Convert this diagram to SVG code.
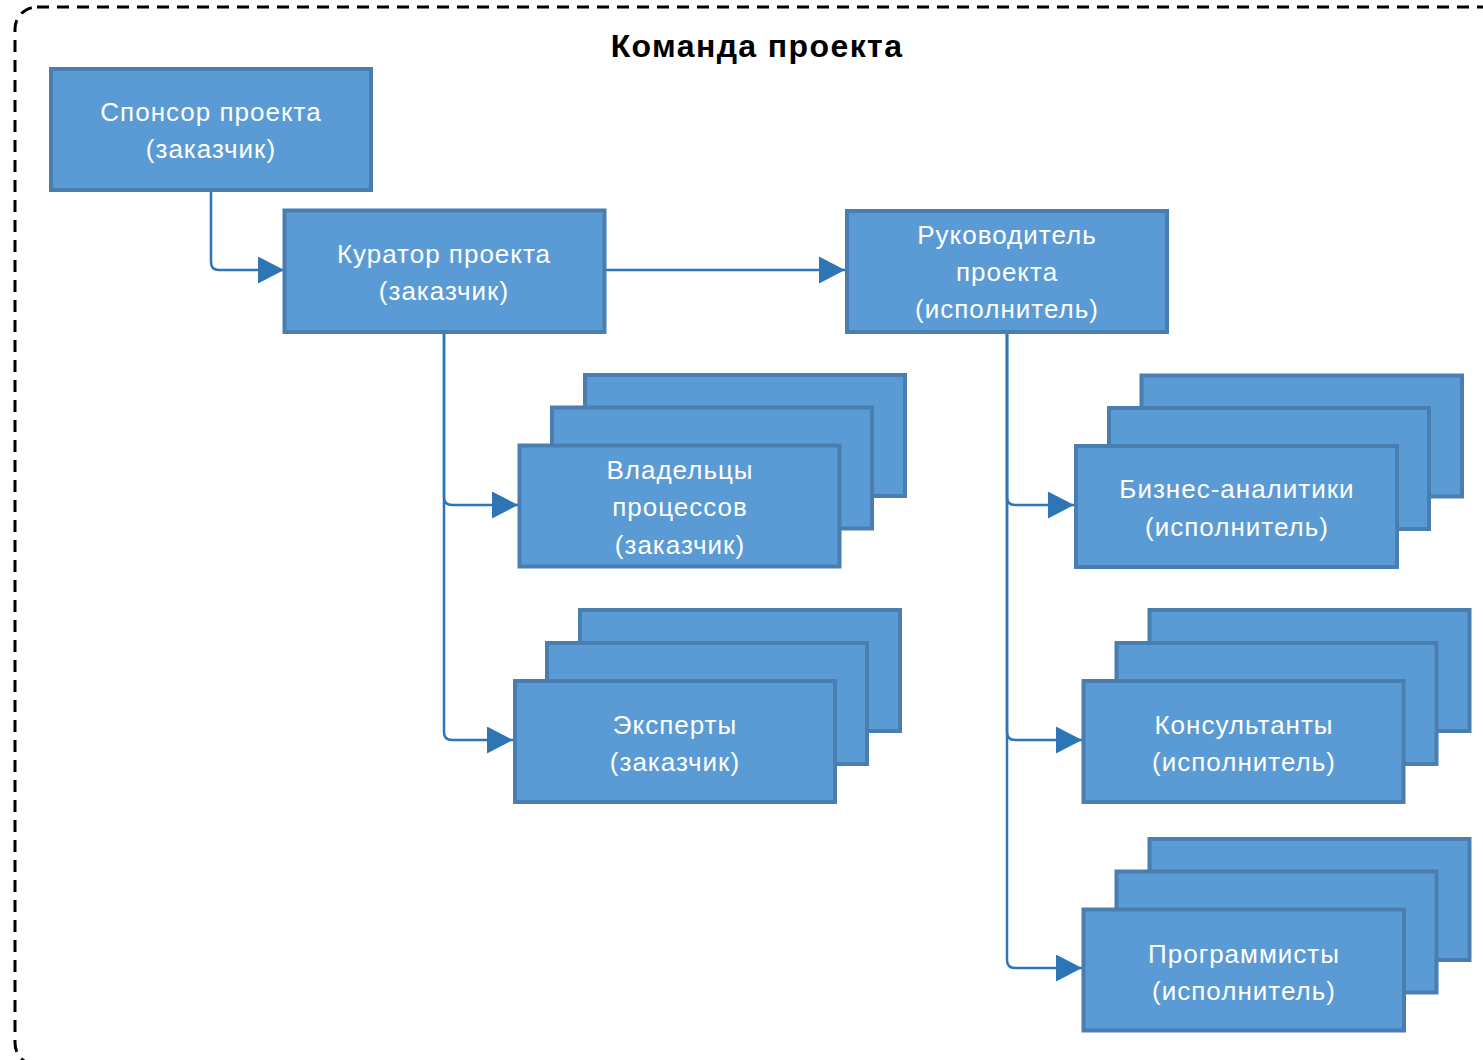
<svg xmlns="http://www.w3.org/2000/svg" width="1483" height="1060" viewBox="0 0 1483 1060">
<style>
.box{fill:#5b9bd5;stroke:#4a7eb0;stroke-width:4}
.t{font-family:"Liberation Sans",Arial,sans-serif;font-size:26px;letter-spacing:1px;fill:#ffffff;text-anchor:middle}
.title{font-family:"Liberation Sans",Arial,sans-serif;font-size:32px;letter-spacing:1.4px;font-weight:bold;fill:#000;text-anchor:middle}
.c{fill:none;stroke:#2e75b6;stroke-width:2.5}
</style>
<defs>
<marker id="arr" viewBox="0 0 26 27" refX="26" refY="13.5" markerWidth="26" markerHeight="27" markerUnits="userSpaceOnUse" orient="auto">
<path d="M0 0 L26 13.5 L0 27 Z" fill="#2e75b6"/>
</marker>
</defs>
<rect x="15" y="7" width="1500" height="1058" rx="22" fill="none" stroke="#000" stroke-width="3" stroke-dasharray="12 8"/>
<text class="title" x="757" y="57">Команда проекта</text>
<g id="connectors">
<path class="c" d="M211 191 V262 Q211 270 219 270 H284" marker-end="url(#arr)"/>
<path class="c" d="M606 270 H845" marker-end="url(#arr)"/>
<path class="c" d="M444 332 V497 Q444 505 452 505 H518" marker-end="url(#arr)"/>
<path class="c" d="M444 332 V732 Q444 740 452 740 H513" marker-end="url(#arr)"/>
<path class="c" d="M1007 332 V497 Q1007 505 1015 505 H1074" marker-end="url(#arr)"/>
<path class="c" d="M1007 332 V732 Q1007 740 1015 740 H1082" marker-end="url(#arr)"/>
<path class="c" d="M1007 332 V960 Q1007 968 1015 968 H1082" marker-end="url(#arr)"/>
</g>
<g id="sponsor">
<rect class="box" x="51" y="69" width="320" height="121"/>
<text class="t" x="211" y="121">Спонсор проекта</text>
<text class="t" x="211" y="158">(заказчик)</text>
</g>
<g id="curator">
<rect class="box" x="284.5" y="210.5" width="320" height="121.5"/>
<text class="t" x="444" y="263">Куратор проекта</text>
<text class="t" x="444" y="300">(заказчик)</text>
</g>
<g id="manager">
<rect class="box" x="847" y="211" width="320" height="121"/>
<text class="t" x="1007" y="244">Руководитель</text>
<text class="t" x="1007" y="281">проекта</text>
<text class="t" x="1007" y="318">(исполнитель)</text>
</g>
<g id="owners">
<rect class="box" x="585" y="375" width="320" height="121"/>
<rect class="box" x="552" y="407.5" width="320" height="121"/>
<rect class="box" x="519.5" y="445.5" width="320" height="121"/>
<text class="t" x="680" y="479">Владельцы</text>
<text class="t" x="680" y="516">процессов</text>
<text class="t" x="680" y="554">(заказчик)</text>
</g>
<g id="experts">
<rect class="box" x="580" y="610" width="320" height="121"/>
<rect class="box" x="547" y="643" width="320" height="121"/>
<rect class="box" x="515" y="681" width="320" height="121"/>
<text class="t" x="675" y="734">Эксперты</text>
<text class="t" x="675" y="771">(заказчик)</text>
</g>
<g id="analysts">
<rect class="box" x="1141.5" y="375.5" width="320.5" height="121"/>
<rect class="box" x="1109" y="408" width="320" height="121"/>
<rect class="box" x="1076" y="446" width="321" height="121"/>
<text class="t" x="1237" y="498">Бизнес-аналитики</text>
<text class="t" x="1237" y="536">(исполнитель)</text>
</g>
<g id="consultants">
<rect class="box" x="1149.5" y="610" width="320" height="121"/>
<rect class="box" x="1116.5" y="643" width="320" height="121"/>
<rect class="box" x="1083.5" y="681" width="320" height="121"/>
<text class="t" x="1244" y="734">Консультанты</text>
<text class="t" x="1244" y="771">(исполнитель)</text>
</g>
<g id="programmers">
<rect class="box" x="1149.5" y="839" width="320" height="121"/>
<rect class="box" x="1116.5" y="871.5" width="320" height="121"/>
<rect class="box" x="1083.5" y="909.5" width="320.5" height="121"/>
<text class="t" x="1244" y="963">Программисты</text>
<text class="t" x="1244" y="1000">(исполнитель)</text>
</g>
</svg>
